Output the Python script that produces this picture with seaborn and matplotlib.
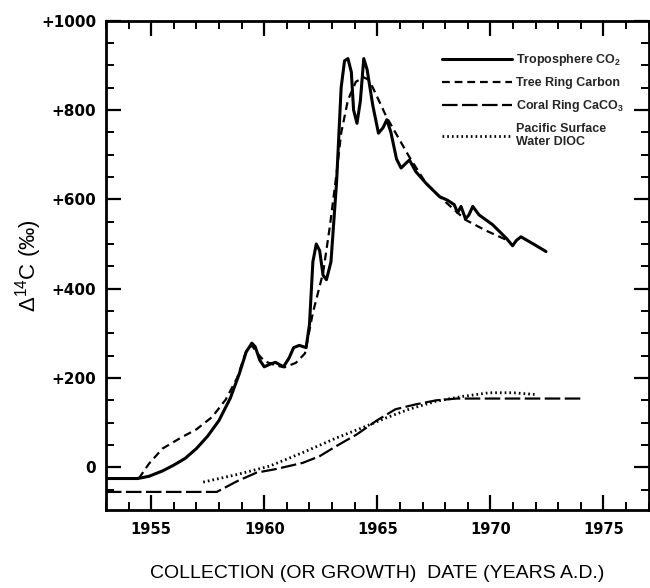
import matplotlib
matplotlib.use("Agg")
import matplotlib.pyplot as plt
from matplotlib.ticker import MultipleLocator, FixedLocator
import seaborn as sns

sns.set_theme(style="ticks")
plt.rcParams["font.family"] = ["DejaVu Sans"]
plt.rcParams["mathtext.default"] = "regular"

FONT = "Liberation Sans"

# troposphere CO2 (solid)
tropo_year = [1953.0, 1954.4, 1954.9, 1955.5, 1956.0, 1956.5, 1957.0, 1957.5, 1958.0,
              1958.5, 1958.9, 1959.2, 1959.45, 1959.6, 1959.8, 1960.0, 1960.3, 1960.5,
              1960.85, 1961.1, 1961.3, 1961.55, 1961.85, 1962.0, 1962.15, 1962.3,
              1962.45, 1962.6, 1962.75, 1962.95, 1963.2, 1963.4, 1963.55, 1963.7,
              1963.85, 1963.95, 1964.1, 1964.25, 1964.4, 1964.55, 1964.8, 1965.05,
              1965.25, 1965.42, 1965.6, 1965.85, 1966.05, 1966.25, 1966.42, 1966.7,
              1967.15, 1967.75, 1968.1, 1968.4, 1968.55, 1968.7, 1968.9, 1969.05,
              1969.22, 1969.5, 1970.1, 1970.7, 1970.98, 1971.15, 1971.35, 1971.9, 1972.46]
tropo_d14c = [-25, -25, -20, -8, 5, 20, 42, 70, 105,
              155, 210, 258, 278, 270, 240, 225, 232, 235,
              225, 245, 268, 273, 268, 320, 460, 500,
              485, 430, 420, 460, 640, 850, 910, 915,
              885, 800, 770, 820, 915, 890, 810, 748,
              760, 778, 750, 690, 670, 680, 688, 662,
              636, 606, 598, 588, 570, 584, 556, 565,
              584, 565, 543, 513, 496, 508, 516, 500, 483]

# tree ring carbon (short dash)
tree_year = [1954.45, 1954.9, 1955.5, 1956.3, 1957.0, 1957.7, 1958.3, 1958.8, 1959.2,
             1959.45, 1959.7, 1960.0, 1960.5, 1960.9, 1961.4, 1961.8, 1962.15, 1962.6,
             1962.9, 1963.2, 1963.4, 1963.7, 1964.05, 1964.4, 1964.6, 1964.8, 1965.4,
             1966.4, 1967.15, 1967.75, 1968.9, 1969.8, 1970.85]
tree_d14c = [-25, 8, 42, 66, 85, 113, 152, 200, 260,
             273, 255, 238, 228, 224, 234, 255, 346, 435,
             539, 659, 748, 822, 863, 873, 868, 850, 785,
             696, 636, 606, 554, 530, 506]

# coral ring CaCO3 (long dash)
coral_year = [1953.0, 1957.9, 1958.8, 1959.65, 1960.5, 1961.7, 1962.45, 1963.2, 1964.1,
              1964.95, 1965.8, 1966.7, 1967.6, 1968.5, 1974.0]
coral_d14c = [-55, -55, -31, -12, -4, 10, 25, 48, 74,
              104, 130, 141, 150, 154, 154]

# pacific surface water DIOC (dotted)
pac_year = [1957.3, 1958.8, 1960.25, 1961.7, 1963.2, 1964.35, 1965.4, 1966.4, 1967.6,
            1968.8, 1969.95, 1971.0, 1972.0]
pac_d14c = [-33, -16, 3, 33, 66, 89, 111, 130, 148, 159, 167, 167, 163]

y_ticks = [0, 200, 400, 600, 800, 1000]
y_labels = ["0", "+200", "+400", "+600", "+800", "+1000"]
x_ticks = [1955, 1960, 1965, 1970, 1975]

fig = plt.figure(figsize=(6.5, 5.88), dpi=100, facecolor="white")
ax = fig.add_axes([0.163, 0.133, 0.835, 0.832])

kw = dict(ax=ax, color="black", sort=False, estimator=None)
sns.lineplot(x=tropo_year, y=tropo_d14c, lw=2.2, label="Troposphere CO$_2$", **kw)
sns.lineplot(x=tree_year, y=tree_d14c, lw=1.6, dashes=False,
             linestyle=(0, (3.5, 2.2)), label="Tree Ring Carbon", **kw)
sns.lineplot(x=coral_year, y=coral_d14c, lw=1.6,
             linestyle=(0, (7, 2)), label="Coral Ring CaCO$_3$", **kw)
sns.lineplot(x=pac_year, y=pac_d14c, lw=2.0,
             linestyle=(0, (0.6, 1.1)), label="Pacific Surface\nWater DIOC", **kw)

ax.set_xlim(1953, 1977)
ax.set_ylim(-95, 1000)
ax.xaxis.set_major_locator(FixedLocator(x_ticks))
ax.xaxis.set_minor_locator(MultipleLocator(1))
ax.yaxis.set_major_locator(FixedLocator(y_ticks))
ax.yaxis.set_minor_locator(MultipleLocator(50))
ax.set_yticklabels(y_labels)
ax.set_axisbelow(False)

for spine in ax.spines.values():
    spine.set_visible(True)
    spine.set_linewidth(2)
    spine.set_color("black")
ax.tick_params(which="both", direction="in", top=True, right=True, colors="black")
ax.tick_params(which="major", length=11, width=1.6)
ax.tick_params(which="minor", length=6, width=1.4)
ax.tick_params(axis="y", labelsize=11, pad=7)
ax.tick_params(axis="x", labelsize=10.5, pad=9)
for lab in ax.get_xticklabels() + ax.get_yticklabels():
    lab.set_fontweight("bold")
for axis in (ax.xaxis, ax.yaxis):
    for t in axis.get_major_ticks() + axis.get_minor_ticks():
        t.tick1line.set_visible(True)
        t.tick2line.set_visible(True)

ax.set_xlabel("COLLECTION (OR GROWTH)  DATE (YEARS A.D.)", fontsize=14,
              fontfamily=FONT, color="black")
ax.xaxis.set_label_coords(0.5, -0.112)
ax.set_ylabel(r"$\Delta^{14}$C (‰)", fontsize=16, fontfamily=FONT, color="black")
ax.yaxis.set_label_coords(-0.115, 0.5)

ax.legend(loc="upper left", bbox_to_anchor=(0.62, 0.935), frameon=False,
          handlelength=5.6, handletextpad=0.3, labelspacing=0.7,
          borderpad=0, borderaxespad=0,
          prop={"size": 9, "weight": "bold", "family": FONT})

fig.savefig("out.png", dpi=100, facecolor="white")
